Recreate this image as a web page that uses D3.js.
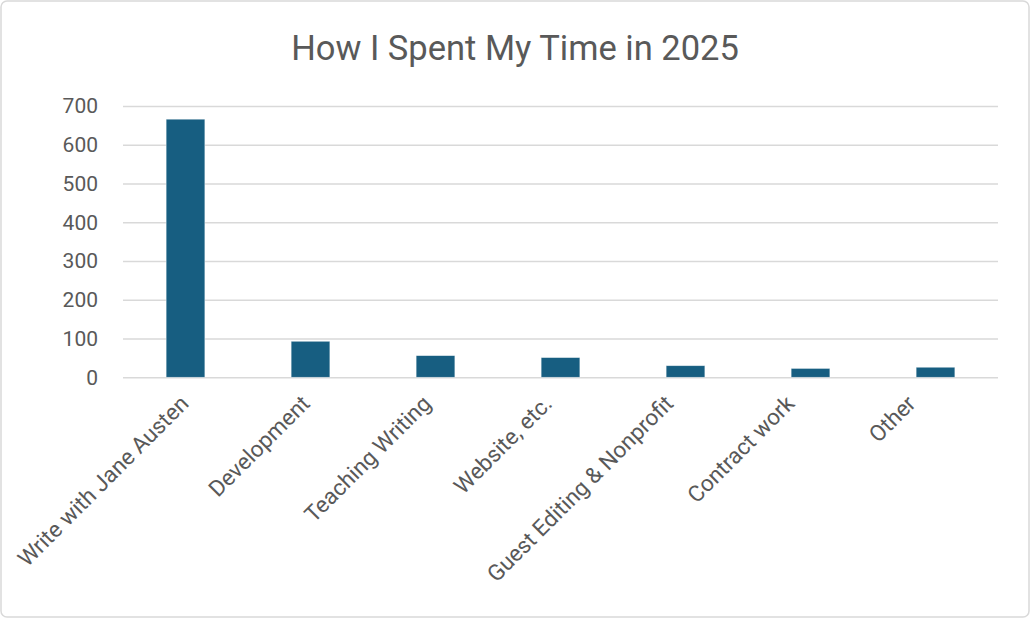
<!DOCTYPE html>
<html><head><meta charset="utf-8">
<script src="https://cdn.jsdelivr.net/npm/d3@7"></script>
<style>html,body{margin:0;padding:0;background:#fff;}svg{display:block;}</style>
</head><body>
<script>
const categories = ["Write with Jane Austen","Development","Teaching Writing","Website, etc.","Guest Editing & Nonprofit","Contract work","Other"];
const values = [666, 93, 56, 51, 30, 23, 26];
const yTicks = [0,100,200,300,400,500,600,700];
const title = "How I Spent My Time in 2025";

(function(){
const W = 1030, H = 618;
const font = "Roboto, 'Open Sans', sans-serif";
const textColor = "#595959";
const svg = d3.select("body").append("svg").attr("width", W).attr("height", H);

svg.append("rect").attr("x",1).attr("y",1).attr("width",W-2).attr("height",H-2)
  .attr("rx",6).attr("fill","#fff").attr("stroke","#d9d9d9").attr("stroke-width",1.5);

const pL = 123, pR = 998, pT = 106, pB = 377.3;
const x = d3.scaleBand().domain(categories).range([pL, pR]).paddingInner(0.69).paddingOuter(0.345);
const y = d3.scaleLinear().domain([0,700]).range([pB, pT]);
const xl = d3.scalePoint().domain(categories).range([190, 917]);

svg.append("text").attr("x", 515).attr("y", 60).attr("text-anchor","middle")
  .attr("font-family", font).attr("font-size", 34.5).attr("fill", textColor).text(title);

const yAxis = d3.axisLeft(y).tickValues(yTicks).tickSize(-(pR-pL)).tickPadding(25);
const gy = svg.append("g").attr("transform", `translate(${pL},0)`).call(yAxis);
gy.select(".domain").remove();
gy.selectAll(".tick line").attr("stroke","#d9d9d9").attr("stroke-width",1.5);
gy.selectAll(".tick text").attr("font-family", font).attr("font-size", 21).attr("fill", textColor);

svg.append("g").selectAll("rect").data(values).join("rect")
  .attr("x",(d,i)=>x(categories[i])).attr("width", x.bandwidth())
  .attr("y", d=>y(d)).attr("height", d=>y(0)-y(d))
  .attr("fill","#175e81").attr("stroke","#ffffff").attr("stroke-opacity",0.6).attr("stroke-width",0.75);

svg.append("g").selectAll("text").data(categories).join("text")
  .attr("transform", d=>`translate(${xl(d)},405) rotate(-45)`)
  .attr("text-anchor","end").attr("font-family", font).attr("font-size", 22.5)
  .attr("fill", textColor).text(d=>d);
})();
</script>
</body></html>
